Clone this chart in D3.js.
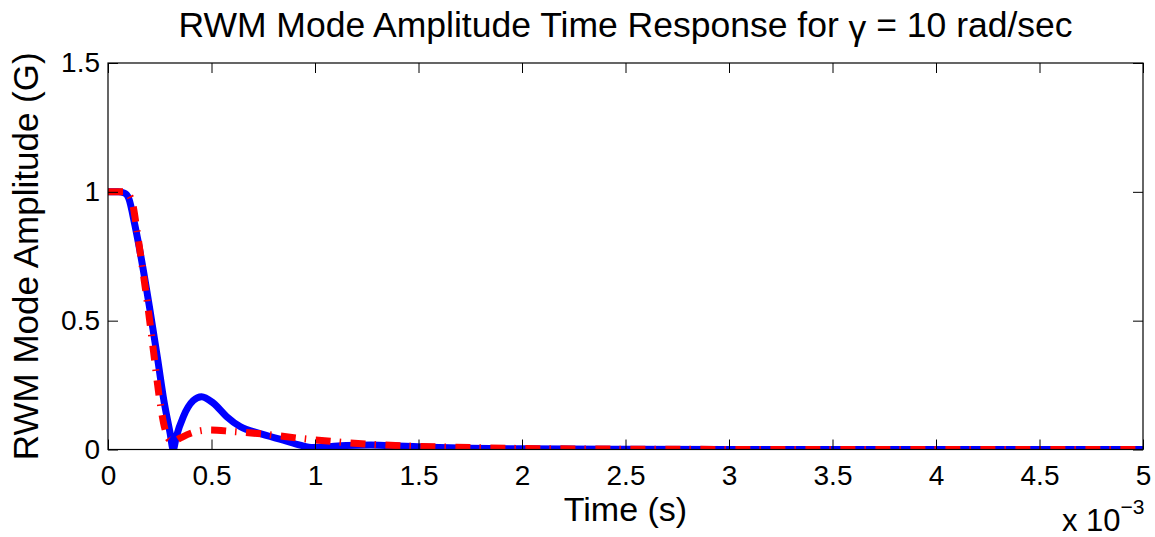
<!DOCTYPE html>
<html>
<head>
<meta charset="utf-8">
<script src="https://cdn.jsdelivr.net/npm/d3@7"></script>
<style>
  html, body { margin: 0; padding: 0; background: #fff; }
  svg text { font-family: "Liberation Sans", Arial, Helvetica, sans-serif; fill: #000; }
</style>
</head>
<body>
<svg id="chart" width="1155" height="537"></svg>
<script>
// Time in units of 1e-3 s
const xTicks = [0, 0.5, 1, 1.5, 2, 2.5, 3, 3.5, 4, 4.5, 5];
const xTickLabels = ["0", "0.5", "1", "1.5", "2", "2.5", "3", "3.5", "4", "4.5", "5"];
const yTicks = [0, 0.5, 1, 1.5];
const yTickLabels = ["0", "0.5", "1", "1.5"];

// Blue solid response
const blueT = [0, 0.05, 0.08, 0.1, 0.13, 0.16, 0.2, 0.24, 0.27, 0.30, 0.315, 0.33, 0.364, 0.412, 0.452, 0.509, 0.573, 0.638, 0.734, 0.847, 0.928, 0.99, 1.05, 1.15, 1.27, 1.4, 1.55, 1.75, 2.0, 2.5, 3, 4, 5];
const blueV = [1, 1, 0.995, 0.975, 0.87, 0.745, 0.555, 0.35, 0.19, 0.064, 0.0, 0.05, 0.128, 0.19, 0.205, 0.18, 0.128, 0.089, 0.062, 0.036, 0.017, 0.008, 0.01, 0.016, 0.017, 0.014, 0.009, 0.005, 0.003, 0.001, 0, 0, 0];

// Red dash-dot response
const redT = [0, 0.08, 0.1, 0.12, 0.14, 0.16, 0.19, 0.22, 0.25, 0.275, 0.295, 0.32, 0.35, 0.40, 0.49, 0.6, 0.75, 0.92, 1.1, 1.27, 1.43, 1.6, 1.77, 2.0, 2.3, 2.7, 3.2, 4, 5];
const redV = [1, 1, 0.99, 0.95, 0.85, 0.74, 0.57, 0.38, 0.19, 0.08, 0.04, 0.033, 0.045, 0.063, 0.076, 0.07, 0.06, 0.044, 0.03, 0.02, 0.014, 0.01, 0.007, 0.004, 0.002, 0.001, 0, 0, 0];

const svg = d3.select("#chart");
const pLeft = 108, pRight = 1143, pTop = 63, pBottom = 449.5;

const x = d3.scaleLinear().domain([0, 5]).range([pLeft, pRight]);
const y = d3.scaleLinear().domain([0, 1.5]).range([pBottom, pTop]);

svg.append("defs").append("clipPath").attr("id", "plotClip")
  .append("rect").attr("x", pLeft).attr("y", pTop)
  .attr("width", pRight - pLeft).attr("height", pBottom - pTop);

// Curves
const line = d3.line().x(d => x(d[0])).y(d => y(d[1])).curve(d3.curveMonotoneX);
const curves = svg.append("g").attr("clip-path", "url(#plotClip)");
curves.append("path")
  .datum(blueT.map((t, i) => [t, blueV[i]]))
  .attr("d", line)
  .attr("fill", "none").attr("stroke", "#0000ff")
  .attr("stroke-width", 7).attr("stroke-linejoin", "round");
curves.append("path")
  .datum(redT.map((t, i) => [t, redV[i]]))
  .attr("d", line)
  .attr("fill", "none").attr("stroke", "#ff0000")
  .attr("stroke-width", 7).attr("stroke-dasharray", "15,9,1.5,9.5");

// Axes with inward ticks on all four sides
const tickLen = 10;
const axB = svg.append("g").attr("transform", `translate(0,${pBottom})`)
  .call(d3.axisBottom(x).tickValues(xTicks).tickFormat((d, i) => xTickLabels[i])
    .tickSizeInner(-tickLen).tickSizeOuter(0).tickPadding(16));
const axT = svg.append("g").attr("transform", `translate(0,${pTop})`)
  .call(d3.axisTop(x).tickValues(xTicks).tickFormat("").tickSizeInner(-tickLen).tickSizeOuter(0));
const axL = svg.append("g").attr("transform", `translate(${pLeft},0)`)
  .call(d3.axisLeft(y).tickValues(yTicks).tickFormat((d, i) => yTickLabels[i])
    .tickSizeInner(-tickLen).tickSizeOuter(0).tickPadding(8));
const axR = svg.append("g").attr("transform", `translate(${pRight},0)`)
  .call(d3.axisRight(y).tickValues(yTicks).tickFormat("").tickSizeInner(-tickLen).tickSizeOuter(0));

[axB, axT, axL, axR].forEach(g => {
  g.select(".domain").remove();
  g.selectAll(".tick line").attr("stroke", "#000").attr("stroke-width", 1);
});
axB.selectAll(".tick text").attr("font-size", 28).attr("font-family", "Liberation Sans, Arial, sans-serif");
axL.selectAll(".tick text").attr("font-size", 28).attr("font-family", "Liberation Sans, Arial, sans-serif");

// Frame
svg.append("rect").attr("x", pLeft).attr("y", pTop)
  .attr("width", pRight - pLeft).attr("height", pBottom - pTop)
  .attr("fill", "none").attr("stroke", "#000").attr("stroke-width", 1.2);

// Title
const title = svg.append("text").attr("x", (pLeft + pRight) / 2).attr("y", 37)
  .attr("text-anchor", "middle").attr("font-size", 35.5);
title.append("tspan").text("RWM Mode Amplitude Time Response for ");
title.append("tspan").text("γ").attr("dy", 3);
title.append("tspan").text(" = 10 rad/sec").attr("dy", -3);

// Axis labels
svg.append("text").attr("x", (pLeft + pRight) / 2).attr("y", 521)
  .attr("text-anchor", "middle").attr("font-size", 34).text("Time (s)");
svg.append("text")
  .attr("transform", `translate(38,${(pTop + pBottom) / 2}) rotate(-90)`)
  .attr("text-anchor", "middle").attr("font-size", 35).text("RWM Mode Amplitude (G)");

// Exponent multiplier
const mult = svg.append("text").attr("x", 1062).attr("y", 531).attr("font-size", 31);
mult.append("tspan").text("x 10");
mult.append("tspan").text("−3").attr("font-size", 21).attr("dy", -17);
</script>
</body>
</html>
